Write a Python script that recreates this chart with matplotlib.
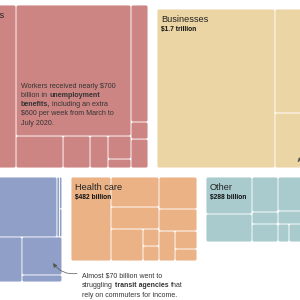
import matplotlib
matplotlib.use("Agg")
import matplotlib.pyplot as plt
from matplotlib.patches import FancyBboxPatch, FancyArrowPatch

plt.rcParams['font.family'] = ['Liberation Sans', 'DejaVu Sans']

# ---- data: spending in billions of dollars (nested = sub-blocks) ----
individuals = [300, [686, [68.5, 39.3, 26.2, [24.1, 9.4]]], [90.6, 13.2, 22.4]]
businesses = [854, [189, 100], 557]
state_local = [[251, 6.8, [3.6, 3.2]], [116.8, [69.2, 12.8]]]
health_care = [153, [65.6, 48.1, [46.6, [12.4, 10.9]]], [55.4, 38.1, [21.9, [18.0, 12.0]]]]
other = [[77.5, 58.7], [41.4, 14.2, 21.3], [39.5, 15.1, [9.0, 11.9]]]

group_names = ['Individuals', 'Businesses', '', 'Health care', 'Other']
group_totals = ['', '$1.7 trillion', '', '$482 billion', '$288 billion']

note_unemployment = [
    [("Workers received nearly $700", "normal")],
    [("billion in", "normal"), ("unemployment", "bold")],
    [("benefits,", "bold"), ("including an extra", "normal")],
    [("$600 per week from March to", "normal")],
    [("July 2020.", "normal")],
]
note_transit = [
    [("Almost $70 billion went to", "normal")],
    [("struggling", "normal"), ("transit agencies", "bold"), ("that", "normal")],
    [("rely on commuters for income.", "normal")],
]

# ---- layout / style ----
K = 21.96  # px^2 per billion
colors = ['#cd8583', '#ecd5a5', '#8f9fc7', '#ebb286', '#a9cbcd']
# (x0, y0, height, first split horizontal?)
boxes = [(-24.4, 5, 163, True), (157, 9, 159, True), (-35, 177, 105, False),
         (71, 177, 84, True), (206, 177, 65, True)]
groups = [individuals, businesses, state_local, health_care, other]


def total(node):
    return sum(total(c) for c in node) if isinstance(node, list) else node


def layout(node, x, y, w, h, horizontal, out):
    if not isinstance(node, list):
        out.append((x, y, w, h))
        return
    t = total(node)
    for c in node:
        f = total(c) / t
        if horizontal:
            cw = w * f
            layout(c, x, y, cw, h, not horizontal, out)
            x += cw
        else:
            ch = h * f
            layout(c, x, y, w, ch, not horizontal, out)
            y += ch


fig = plt.figure(figsize=(3, 3), dpi=100)
ax = fig.add_axes([0, 0, 1, 1])
ax.set_xlim(0, 300)
ax.set_ylim(300, 0)
ax.axis('off')

g = 0.45
for data, col, (x0, y0, h, hz), name, tot in zip(groups, colors, boxes, group_names, group_totals):
    w = total(data) * K / h
    rects = []
    layout(data, x0, y0, w, h, hz, rects)
    for (x, y, cw, ch) in rects:
        r = min(1.6, cw / 2 - g, ch / 2 - g)
        r = max(r, 0.2)
        p = FancyBboxPatch((x + g, y + g), max(cw - 2 * g, 0.1), max(ch - 2 * g, 0.1),
                           boxstyle=f"round,pad=0,rounding_size={r}",
                           facecolor=col, edgecolor='none', linewidth=0)
        ax.add_patch(p)
    if name:
        if name == 'Individuals':
            ax.text(4, y0 + 10.5, name, ha='right', va='center', fontsize=6.5, color='#222222')
        else:
            ax.text(x0 + 4, y0 + 10.5, name, ha='left', va='center', fontsize=6.6, color='#222222')
    if tot:
        ax.text(x0 + 4, y0 + 20, tot, ha='left', va='center', fontsize=4.8,
                fontweight='bold', color='#111111')

fig.canvas.draw()
renderer = fig.canvas.get_renderer()


def rich(lines, x, y, dy, size):
    for i, line in enumerate(lines):
        cx = x
        for j, (txt, wt) in enumerate(line):
            t = ax.text(cx, y + i * dy, txt, ha='left', va='baseline', fontsize=size,
                        fontweight=wt, color='#333333')
            bb = t.get_window_extent(renderer)
            sp = ax.text(0, 0, "a a", fontsize=size, fontweight=wt)
            sp2 = ax.text(0, 0, "aa", fontsize=size, fontweight=wt)
            sw = sp.get_window_extent(renderer).width - sp2.get_window_extent(renderer).width
            sp.remove(); sp2.remove()
            cx += bb.width + sw


rich(note_unemployment, 21, 87.5, 9.3, 5.15)
rich(note_transit, 82, 277.5, 9.6, 5.0)

arr = FancyArrowPatch((77, 273.5), (53, 263), arrowstyle='-|>,head_length=2.5,head_width=1.2',
                      connectionstyle='arc3,rad=-0.3', color='#555555', lw=0.5,
                      shrinkA=0, shrinkB=0)
ax.add_patch(arr)
arr2 = FancyArrowPatch((306, 158), (297.5, 162), arrowstyle='-|>,head_length=2.5,head_width=1.2',
                       connectionstyle='arc3,rad=0.2', color='#555555', lw=0.5,
                       shrinkA=0, shrinkB=0)
ax.add_patch(arr2)

fig.savefig('out.png', dpi=100)
